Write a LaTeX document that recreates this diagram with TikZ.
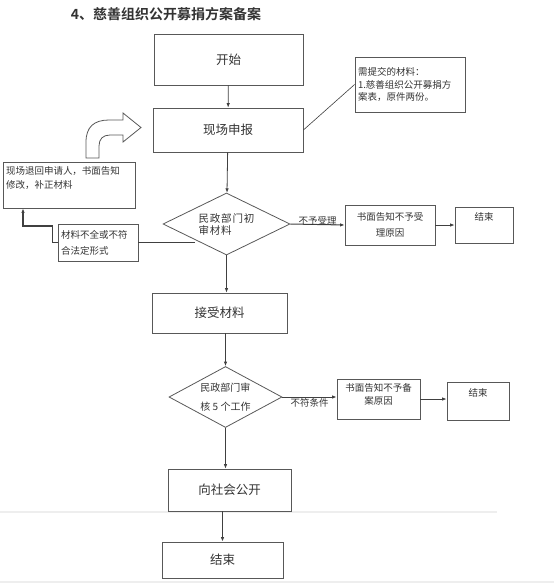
\documentclass[tikz,border=0pt]{standalone}
\usepackage{fontspec}
\setmainfont{Noto Sans CJK SC}[BoldFont={Noto Sans CJK SC Bold}]
\usetikzlibrary{positioning}
\usetikzlibrary{calc}
\usetikzlibrary{shapes.geometric}
\usetikzlibrary{arrows.meta}
\definecolor{boxline}{HTML}{585858}
\definecolor{textgray}{HTML}{333333}
\definecolor{rulegray}{HTML}{EEEEEE}
\tikzstyle{block} = [draw=boxline, rectangle, line width=0.8pt, text=textgray, inner sep=2pt]
\tikzstyle{bigtext} = [font=\fontsize{12.5}{15}\selectfont]
\tikzstyle{smalltext} = [font=\fontsize{9.5}{13}\selectfont, align=center]
\tikzstyle{notebox} = [block, font=\fontsize{9.5}{12.5}\selectfont, align=left]
\tikzstyle{decision} = [draw=boxline, diamond, line width=0.8pt, text=textgray, inner sep=-6pt, shape aspect=2, align=left]
\tikzstyle{line} = [draw=black!75, line width=0.8pt]
\tikzstyle{lbl} = [font=\fontsize{9.5}{11}\selectfont, text=textgray, inner sep=1pt]

\begin{document}
\begin{tikzpicture}[x=1pt,y=-1pt,>={Latex[length=4.5pt,width=3.5pt]}]
    \useasboundingbox (0,0) rectangle (554,587);
    % faint page rules
    \draw [rulegray, line width=1.5pt] (0,512) -- (497,512);
    \draw [rulegray, line width=1.5pt] (0,582) -- (554,582);

    \node [text=textgray, font=\bfseries\fontsize{14}{16}\selectfont] (title) at (166,14) {4、慈善组织公开募捐方案备案};

    \node [block, bigtext, minimum width=149pt, minimum height=51pt] (start) at (228.5,59.5) {开始};
    \node [block, bigtext, minimum width=150pt, minimum height=44pt] (report) at (228,130) {现场申报};
    \node [notebox, minimum width=110pt, minimum height=55pt, text width=104pt] (note) at (410,84.5) {需提交的材料：\\1.慈善组织公开募捐方\\案表，原件两份。};
    \node [decision, minimum width=127pt, minimum height=62pt, font=\fontsize{10.5}{12}\selectfont\addfontfeature{LetterSpace=8}] (d1) at (226.5,224) {民政部门初\\审材料};
    \node [block, smalltext, minimum width=90pt, minimum height=40pt, font=\fontsize{9.5}{16}\selectfont] (refuse1) at (390,225) {书面告知不予受\\理原因};
    \node [block, smalltext, minimum width=58pt, minimum height=36pt] (end1) at (484,225) {结束\\[4pt]\mbox{}};
    \node [notebox, minimum width=132pt, minimum height=46pt, text width=126pt, font=\fontsize{9.5}{14}\selectfont] (back) at (69,185) {现场退回申请人，书面告知\\修改，补正材料\\\mbox{}};
    \node [notebox, minimum width=80pt, minimum height=37pt, text width=74pt, font=\fontsize{9.5}{16}\selectfont] (lack) at (98,242.5) {材料不全或不符\\合法定形式};
    \node [block, bigtext, minimum width=135pt, minimum height=40pt] (accept) at (219.5,313) {接受材料};
    \node [decision, minimum width=113pt, minimum height=61pt, font=\fontsize{10}{19}\selectfont] (d2) at (225.5,397) {民政部门审\\核 5 个工作};
    \node [block, smalltext, minimum width=83pt, minimum height=40pt] (refuse2) at (378.5,399) {书面告知不予备\\案原因\\[-2pt]\mbox{}};
    \node [block, smalltext, minimum width=62pt, minimum height=38pt] (end2) at (478,401) {结束\\[5pt]\mbox{}};
    \node [block, bigtext, minimum width=123pt, minimum height=42pt] (publish) at (229.5,490) {向社会公开};
    \node [block, bigtext, minimum width=121pt, minimum height=36pt] (end3) at (222.5,560) {结束};

    % bent arrow back to the report
    \draw [draw=boxline, line width=0.8pt, fill=white] (86,158) -- (86,142) .. controls (86,127) and (94,120) .. (109,120)
        -- (123,120) -- (123,113) -- (141,127.5) -- (123,142) -- (123,135) -- (110,135)
        .. controls (103,135) and (99,139) .. (99,146) -- (99,158) -- cycle;

    \draw [->, line] (start) -- (report);
    \draw [line, line width=0.6pt] (report.east) -- (note.west);
    \draw [->, line] (report) -- (d1);
    \draw [->, line, line width=1pt] (d1.east) -- node[lbl, above, yshift=-2pt] {不予受理} (refuse1.west);
    \draw [->, line] (refuse1) -- (end1);
    \draw [line, line width=1.2pt] (lack.east -| d1.south west) -- (lack.east);
    \coordinate (bend) at (23,226);
    \draw [->, line, line width=1.2pt] (lack.west) -- ++(-5,0) |- (bend) -- (bend |- back.south);
    \draw [->, line] (d1.south) -- (d1.south |- accept.north);
    \draw [->, line] (accept.south -| d2.north) -- (d2.north);
    \draw [->, line, line width=1pt] (d2.east) -- node[lbl, below] {不符条件} (d2.east -| refuse2.west);
    \draw [->, line] (refuse2.east) -- (refuse2.east -| end2.west);
    \draw [->, line] (d2.south) -- (d2.south |- publish.north);
    \draw [->, line, line width=1.3pt] (end3.north |- publish.south) -- (end3.north);
\end{tikzpicture}
\end{document}
